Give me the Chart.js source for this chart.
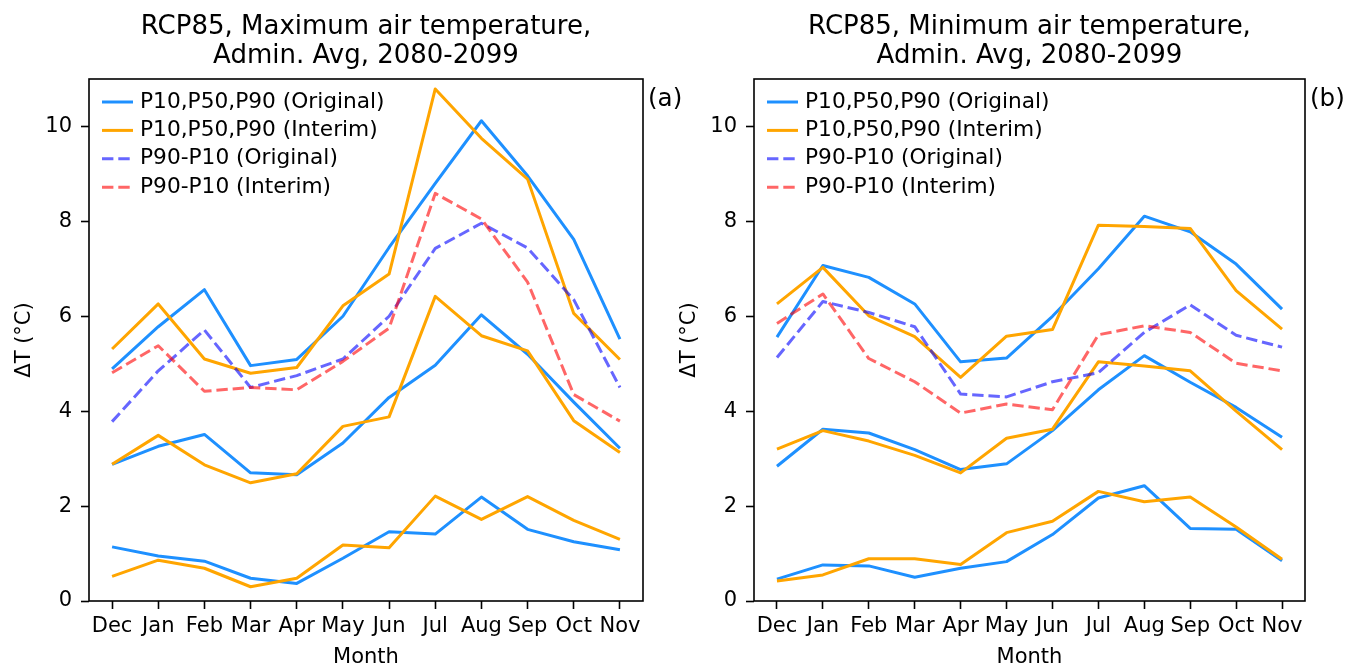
<!DOCTYPE html>
<html>
<head>
<meta charset="utf-8">
<script src="https://cdn.jsdelivr.net/npm/chart.js@4.4.1/dist/chart.umd.min.js"></script>
<style>
  html, body { margin: 0; padding: 0; background: #fff; }
  #wrap { position: relative; width: 1350px; height: 666px; overflow: hidden; }
  canvas { position: absolute; top: 0; }
  #maxChart { left: 0; }
  #minChart { left: 660px; }
</style>
</head>
<body>
<div id="wrap">
  <canvas id="maxChart" width="690" height="666"></canvas>
  <canvas id="minChart" width="690" height="666"></canvas>
</div>
<script>
const months = ['Dec', 'Jan', 'Feb', 'Mar', 'Apr', 'May', 'Jun', 'Jul', 'Aug', 'Sep', 'Oct', 'Nov'];
const yTicks = [0, 2, 4, 6, 8, 10];

// Maximum air temperature, change in degC
const tmaxP90Orig = [4.89, 5.78, 6.56, 4.96, 5.09, 6.0, 7.45, 8.8, 10.12, 8.96, 7.62, 5.52];
const tmaxP50Orig = [2.88, 3.26, 3.51, 2.7, 2.66, 3.33, 4.29, 4.97, 6.03, 5.2, 4.19, 3.22];
const tmaxP10Orig = [1.14, 0.95, 0.84, 0.48, 0.37, 0.9, 1.46, 1.41, 2.19, 1.51, 1.25, 1.08];
const tmaxP90Int = [5.31, 6.26, 5.1, 4.8, 4.92, 6.22, 6.89, 10.79, 9.75, 8.89, 6.06, 5.09];
const tmaxP50Int = [2.88, 3.49, 2.87, 2.49, 2.68, 3.68, 3.88, 6.42, 5.59, 5.27, 3.8, 3.13];
const tmaxP10Int = [0.52, 0.86, 0.69, 0.3, 0.48, 1.18, 1.12, 2.21, 1.72, 2.2, 1.7, 1.3];
const tmaxSpreadOrig = [3.78, 4.85, 5.71, 4.5, 4.75, 5.1, 6.0, 7.43, 7.96, 7.44, 6.35, 4.5];
const tmaxSpreadInt = [4.81, 5.38, 4.42, 4.5, 4.45, 5.05, 5.75, 8.59, 8.05, 6.72, 4.35, 3.79];

// Minimum air temperature, change in degC
const tminP90Orig = [5.56, 7.07, 6.82, 6.26, 5.04, 5.12, 6.0, 7.0, 8.11, 7.78, 7.1, 6.15];
const tminP50Orig = [2.84, 3.62, 3.54, 3.19, 2.77, 2.89, 3.59, 4.45, 5.17, 4.61, 4.08, 3.45];
const tminP10Orig = [0.46, 0.76, 0.74, 0.5, 0.69, 0.83, 1.4, 2.17, 2.43, 1.53, 1.51, 0.85];
const tminP90Int = [6.26, 7.03, 6.01, 5.57, 4.71, 5.58, 5.72, 7.92, 7.89, 7.85, 6.54, 5.73];
const tminP50Int = [3.2, 3.59, 3.37, 3.07, 2.7, 3.43, 3.62, 5.04, 4.95, 4.85, 4.0, 3.19];
const tminP10Int = [0.42, 0.55, 0.89, 0.89, 0.77, 1.44, 1.68, 2.31, 2.09, 2.19, 1.56, 0.88];
const tminSpreadOrig = [5.13, 6.31, 6.08, 5.78, 4.36, 4.3, 4.62, 4.81, 5.66, 6.24, 5.6, 5.35];
const tminSpreadInt = [5.85, 6.47, 5.11, 4.62, 3.96, 4.15, 4.03, 5.61, 5.8, 5.66, 5.01, 4.85];

const BLUE = '#1E90FF';
const ORANGE = '#FFA500';
const PURPLE = 'rgba(0, 0, 255, 0.6)';
const RED = 'rgba(255, 0, 0, 0.6)';
const DASH = [11.4, 4.9];
const FONT = '"DejaVu Sans", sans-serif';

const legendItems = [
  { label: 'P10,P50,P90 (Original)', color: BLUE, dash: [] },
  { label: 'P10,P50,P90 (Interim)', color: ORANGE, dash: [] },
  { label: 'P90-P10 (Original)', color: PURPLE, dash: DASH },
  { label: 'P90-P10 (Interim)', color: RED, dash: DASH },
];

Chart.defaults.color = '#000';
Chart.defaults.font.family = FONT;

function line(data, color, dashed, order) {
  return {
    data: data,
    borderColor: color,
    borderWidth: 3,
    borderDash: dashed ? DASH : [],
    borderCapStyle: 'butt',
    borderJoinStyle: 'round',
    pointRadius: 0,
    pointHoverRadius: 0,
    tension: 0,
    fill: false,
    order: order,
  };
}

// frame, titles, axis labels, legend and panel tag
const decor = {
  id: 'decor',
  afterDraw(chart, args, opts) {
    const ctx = chart.ctx;
    const a = chart.chartArea;
    const cx = (a.left + a.right) / 2;
    ctx.save();

    ctx.strokeStyle = '#000';
    ctx.lineWidth = 1.6;
    ctx.strokeRect(a.left, a.top, a.right - a.left, a.bottom - a.top);

    ctx.fillStyle = '#000';
    ctx.textAlign = 'center';
    ctx.textBaseline = 'alphabetic';
    ctx.font = '26px ' + FONT;
    ctx.fillText(opts.title[0], cx, 34);
    ctx.fillText(opts.title[1], cx, 63);

    ctx.font = '21px ' + FONT;
    ctx.fillText('Month', cx, 663);

    ctx.save();
    ctx.translate(a.left - 64, (a.top + a.bottom) / 2);
    ctx.rotate(-Math.PI / 2);
    ctx.textBaseline = 'middle';
    ctx.fillText('\u0394T (\u00B0C)', 0, 0);
    ctx.restore();

    ctx.font = '24.6px ' + FONT;
    ctx.textAlign = 'left';
    ctx.textBaseline = 'middle';
    ctx.fillText(opts.tag, a.right + 5, 100);

    ctx.font = '21.7px ' + FONT;
    legendItems.forEach((item, i) => {
      const y = a.top + 23 + i * 28.4;
      ctx.beginPath();
      ctx.strokeStyle = item.color;
      ctx.lineWidth = 3;
      ctx.setLineDash(item.dash);
      ctx.moveTo(a.left + 13, y);
      ctx.lineTo(a.left + 44, y);
      ctx.stroke();
      ctx.setLineDash([]);
      ctx.fillText(item.label, a.left + 51, y);
    });
    ctx.restore();
  }
};

function makePanel(id, series, opts) {
  return new Chart(document.getElementById(id), {
    type: 'line',
    data: {
      labels: months,
      datasets: [
        line(series[0], BLUE, false, 4),
        line(series[1], BLUE, false, 4),
        line(series[2], BLUE, false, 4),
        line(series[3], ORANGE, false, 3),
        line(series[4], ORANGE, false, 3),
        line(series[5], ORANGE, false, 3),
        line(series[6], PURPLE, true, 2),
        line(series[7], RED, true, 1),
      ],
    },
    options: {
      responsive: false,
      animation: false,
      devicePixelRatio: 1,
      layout: { padding: { left: 0, right: opts.padRight, top: 79, bottom: 0 } },
      plugins: {
        legend: { display: false },
        tooltip: { enabled: false },
        decor: { title: opts.title, tag: opts.tag },
      },
      scales: {
        x: {
          offset: true,
          grid: { offset: false, drawOnChartArea: false, drawTicks: true, tickLength: 8, tickWidth: 1.6, tickColor: '#000' },
          border: { display: false },
          ticks: { font: { size: 21 }, padding: 5, maxRotation: 0, autoSkip: false },
          afterFit: (s) => { s.height = 65; },
        },
        y: {
          min: 0,
          max: 11,
          afterBuildTicks: (s) => { s.ticks = yTicks.map(v => ({ value: v })); },
          grid: { drawOnChartArea: false, drawTicks: true, tickLength: 8, tickWidth: 1.6, tickColor: '#000' },
          border: { display: false },
          ticks: { font: { size: 21 }, padding: 9 },
          afterFit: (s) => { s.width = opts.axisWidth; },
        },
      },
    },
    plugins: [decor],
  });
}

makePanel('maxChart',
  [tmaxP90Orig, tmaxP50Orig, tmaxP10Orig, tmaxP90Int, tmaxP50Int, tmaxP10Int, tmaxSpreadOrig, tmaxSpreadInt],
  { title: ['RCP85, Maximum air temperature,', 'Admin. Avg, 2080-2099'], tag: '(a)', axisWidth: 89, padRight: 47 });

makePanel('minChart',
  [tminP90Orig, tminP50Orig, tminP10Orig, tminP90Int, tminP50Int, tminP10Int, tminSpreadOrig, tminSpreadInt],
  { title: ['RCP85, Minimum air temperature,', 'Admin. Avg, 2080-2099'], tag: '(b)', axisWidth: 94, padRight: 45 });
</script>
</body>
</html>
